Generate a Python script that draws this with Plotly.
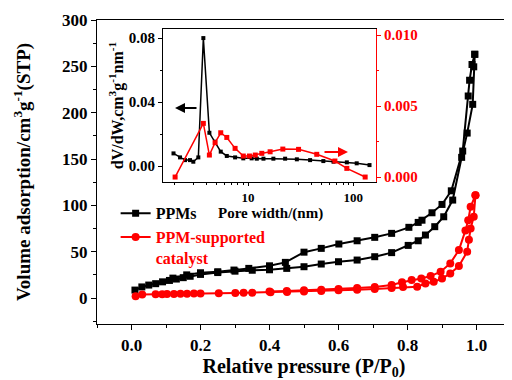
import plotly.graph_objects as go

# ---------------- data ----------------
# PPMs isotherm (black)
ppm_ads_p = [0.01, 0.03, 0.05, 0.07, 0.09, 0.11, 0.13, 0.15, 0.17, 0.20, 0.25, 0.30, 0.35, 0.40, 0.45,
             0.50, 0.55, 0.60, 0.654, 0.705, 0.754, 0.802, 0.831, 0.852, 0.879, 0.905, 0.931, 0.957,
             0.973, 0.989, 0.992, 0.995]
ppm_ads_v = [8.6, 12.0, 14.0, 15.5, 17.5, 19.0, 20.5, 22.0, 23.5, 25.5, 27.5, 29.0, 30.0, 30.5, 32.0,
             33.8, 36.7, 39.2, 41.0, 44.6, 49.0, 56.8, 61.8, 68.0, 77.0, 87.7, 105.7, 151.8,
             178.0, 209.0, 249.5, 263.0]
ppm_des_p = [0.995, 0.987, 0.98, 0.976, 0.96, 0.927, 0.90, 0.871, 0.842, 0.831, 0.804, 0.754, 0.705,
             0.654, 0.601, 0.55, 0.50, 0.446, 0.40, 0.34, 0.297, 0.25, 0.20, 0.16, 0.12]
ppm_des_v = [263.0, 252.0, 235.0, 218.0, 158.6, 115.7, 101.0, 92.0, 84.0, 81.6, 76.3, 69.8, 65.5,
             61.8, 58.3, 53.6, 49.5, 38.5, 34.8, 32.0, 30.2, 28.4, 27.3, 25.0, 21.5]

# PPM-supported catalyst isotherm (red)
cat_ads_p = [0.012, 0.031, 0.07, 0.089, 0.103, 0.123, 0.142, 0.161, 0.181, 0.20, 0.253, 0.301, 0.325,
             0.35, 0.403, 0.451, 0.50, 0.55, 0.60, 0.654, 0.705, 0.754, 0.787, 0.828, 0.852, 0.876,
             0.90, 0.924, 0.949, 0.973, 0.978, 0.983, 0.992, 0.997]
cat_ads_v = [2.0, 3.8, 4.0, 4.2, 4.3, 4.5, 4.6, 4.7, 4.8, 4.9, 5.2, 5.5, 5.7, 5.8, 6.2, 6.6, 7.0, 7.6,
             8.3, 9.0, 9.8, 10.8, 12.0, 12.2, 15.8, 17.6, 21.0, 26.6, 34.5, 50.0, 63.0, 75.0, 87.7, 111.0]
cat_des_p = [0.997, 0.983, 0.976, 0.968, 0.949, 0.924, 0.896, 0.867, 0.84, 0.812, 0.784, 0.754, 0.705,
             0.654, 0.60, 0.55, 0.50, 0.45, 0.40]
cat_des_v = [111.0, 98.5, 84.0, 73.0, 51.8, 37.4, 28.4, 23.7, 21.0, 19.4, 17.0, 14.0, 12.0, 10.8,
             9.8, 9.0, 8.3, 7.6, 7.0]

# Inset: pore size distribution
psd_ppm_w = [1.95, 2.25, 2.51, 2.80, 3.01, 3.36, 3.75, 4.28, 4.85, 5.49, 6.27, 7.52, 9.0, 10.8, 12.1,
             14.0, 17.4, 22.5, 29.1, 38.9, 52, 65, 87, 108, 143]
psd_ppm_v = [0.0079, 0.0054, 0.0037, 0.0037, 0.0027, 0.0054, 0.080, 0.0208, 0.0152, 0.0090, 0.0063,
             0.0054, 0.0048, 0.0048, 0.0046, 0.0046, 0.0046, 0.0046, 0.0042, 0.0037, 0.0031, 0.0027,
             0.0023, 0.0017, 0.0006]
psd_cat_w = [2.02, 3.75, 4.28, 4.85, 5.49, 6.27, 7.52, 9.0, 10.3, 11.7, 13.5, 16.2, 21.4, 30.2, 45,
             67, 87, 130]
psd_cat_v = [0.0000, 0.00378, 0.00155, 0.00242, 0.00312, 0.00279, 0.00202, 0.00148, 0.00148, 0.00155,
             0.00167, 0.00178, 0.00197, 0.00195, 0.0016, 0.00113, 0.00061, 0.0000]

FONT = "Liberation Serif, Times New Roman, serif"
BLACK = "#000000"
RED = "#ff0000"

fig = go.Figure()

# main isotherms
fig.add_trace(go.Scatter(x=ppm_ads_p, y=ppm_ads_v, mode="lines+markers", name="PPMs",
                         line=dict(color=BLACK, width=2),
                         marker=dict(symbol="square", size=7, color=BLACK),
                         legendgroup="ppm"))
fig.add_trace(go.Scatter(x=ppm_des_p, y=ppm_des_v, mode="lines+markers", showlegend=False,
                         line=dict(color=BLACK, width=2),
                         marker=dict(symbol="square", size=7, color=BLACK),
                         legendgroup="ppm"))
fig.add_trace(go.Scatter(x=cat_ads_p, y=cat_ads_v, mode="lines+markers",
                         name="<span style='color:#ff0000'>PPM-supported</span><br><span style='color:#ff0000'>catalyst</span>",
                         line=dict(color=RED, width=2),
                         marker=dict(symbol="circle", size=8, color=RED),
                         legendgroup="cat"))
fig.add_trace(go.Scatter(x=cat_des_p, y=cat_des_v, mode="lines+markers", showlegend=False,
                         line=dict(color=RED, width=2),
                         marker=dict(symbol="circle", size=8, color=RED),
                         legendgroup="cat"))

# inset
fig.add_trace(go.Scatter(x=psd_ppm_w, y=psd_ppm_v, mode="lines+markers", showlegend=False,
                         xaxis="x2", yaxis="y2",
                         line=dict(color=BLACK, width=1.5),
                         marker=dict(symbol="square", size=4, color=BLACK)))
fig.add_trace(go.Scatter(x=psd_cat_w, y=psd_cat_v, mode="lines+markers", showlegend=False,
                         xaxis="x2", yaxis="y3",
                         line=dict(color=RED, width=1.5),
                         marker=dict(symbol="square", size=5, color=RED)))

tickfont_main = dict(family=FONT, size=17, color=BLACK, weight="bold")
tickfont_inset = dict(family=FONT, size=15, color=BLACK, weight="bold")

fig.update_layout(
    width=504, height=372,
    margin=dict(l=89, r=1, t=12, b=56),
    paper_bgcolor="white", plot_bgcolor="white",
    font=dict(family=FONT, color=BLACK),
    showlegend=True,
    legend=dict(x=0.045, y=0.42, xanchor="left", yanchor="top",
                bgcolor="rgba(0,0,0,0)", borderwidth=0,
                font=dict(family=FONT, size=16, color=BLACK, weight="bold"),
                itemwidth=30, valign="top", tracegroupgap=0),
    xaxis=dict(range=[-0.1, 1.1], domain=[0, 1], dtick=0.2, tick0=0, tickformat=".1f",
               showline=True, linecolor=BLACK, linewidth=1.2, mirror=True,
               ticks="outside", ticklen=5, tickwidth=1.2, tickcolor=BLACK,
               minor=dict(dtick=0.1, ticks="outside", ticklen=3, tickcolor=BLACK),
               showgrid=False, zeroline=False, tickfont=tickfont_main,
               title=dict(text="Relative pressure (P/P<sub>0</sub>)", standoff=6,
                          font=dict(family=FONT, size=20, color=BLACK, weight="bold"))),
    yaxis=dict(range=[-28, 300], domain=[0, 1], dtick=50, tick0=0,
               showline=True, linecolor=BLACK, linewidth=1.2, mirror=False,
               ticks="outside", ticklen=5, tickwidth=1.2, tickcolor=BLACK,
               minor=dict(dtick=25, ticks="outside", ticklen=3, tickcolor=BLACK),
               showgrid=False, zeroline=False, tickfont=tickfont_main,
               title=dict(text="Volume adsorption/cm<sup>3</sup>g<sup>-1</sup>(STP)", standoff=26,
                          font=dict(family=FONT, size=19, color=BLACK, weight="bold"))),
    xaxis2=dict(type="log", range=[0.19, 2.217], domain=[0.1594, 0.6739], anchor="y2",
                tickvals=[10, 100], ticktext=["10", "100"],
                showline=True, linecolor=BLACK, linewidth=1, mirror=True,
                ticks="outside", ticklen=3, tickcolor=BLACK,
                minor=dict(ticks="outside", ticklen=2, tickcolor=BLACK,
                           tickvals=[2, 3, 4, 5, 6, 7, 8, 9, 20, 30, 40, 50, 60, 70, 80, 90]),
                showgrid=False, zeroline=False,
                tickfont=dict(family=FONT, size=13, color=BLACK, weight="bold")),
    yaxis2=dict(range=[-0.01, 0.0856], domain=[0.467, 0.970], anchor="x2",
                tickvals=[0.0, 0.04, 0.08], tickformat=".2f",
                showline=True, linecolor=BLACK, linewidth=1,
                ticks="outside", ticklen=4, tickcolor=BLACK,
                minor=dict(tickvals=[0.02, 0.06], ticks="outside", ticklen=2, tickcolor=BLACK),
                showgrid=False, zeroline=False, tickfont=tickfont_inset,
                title=dict(text="dV/dW,cm<sup>3</sup>g<sup>-1</sup>nm<sup>-1</sup>", standoff=1,
                           font=dict(family=FONT, size=16, color=BLACK, weight="bold"))),
    yaxis3=dict(range=[-0.000352, 0.010423], overlaying="y2", side="right", anchor="x2",
                tickvals=[0.0, 0.005, 0.010], tickformat=".3f",
                showline=True, linecolor=RED, linewidth=1,
                ticks="outside", ticklen=4, tickcolor=RED,
                minor=dict(tickvals=[0.0025, 0.0075], ticks="outside", ticklen=2, tickcolor=RED),
                showgrid=False, zeroline=False,
                tickfont=dict(family=FONT, size=15, color=RED, weight="bold")),
)

# inset x-axis title, placed tight under its tick labels as in the original
fig.add_annotation(x=(270 - 97) / 414, y=(324 - 213) / 304, xref="paper", yref="paper",
                   text="Pore width/(nm)", showarrow=False, xanchor="center", yanchor="middle",
                   font=dict(family=FONT, size=15, color=BLACK, weight="bold"))

# direction arrows in the inset
fig.add_annotation(x=(175 - 97) / 414, y=(324 - 108) / 304, xref="paper", yref="paper",
                   ax=23, ay=0, text="", showarrow=True, arrowhead=2, arrowsize=1,
                   arrowwidth=2, arrowcolor=BLACK)
fig.add_annotation(x=(348 - 97) / 414, y=(324 - 152) / 304, xref="paper", yref="paper",
                   ax=-25, ay=0, text="", showarrow=True, arrowhead=2, arrowsize=1,
                   arrowwidth=2, arrowcolor=RED)

fig.write_html("out.html")
